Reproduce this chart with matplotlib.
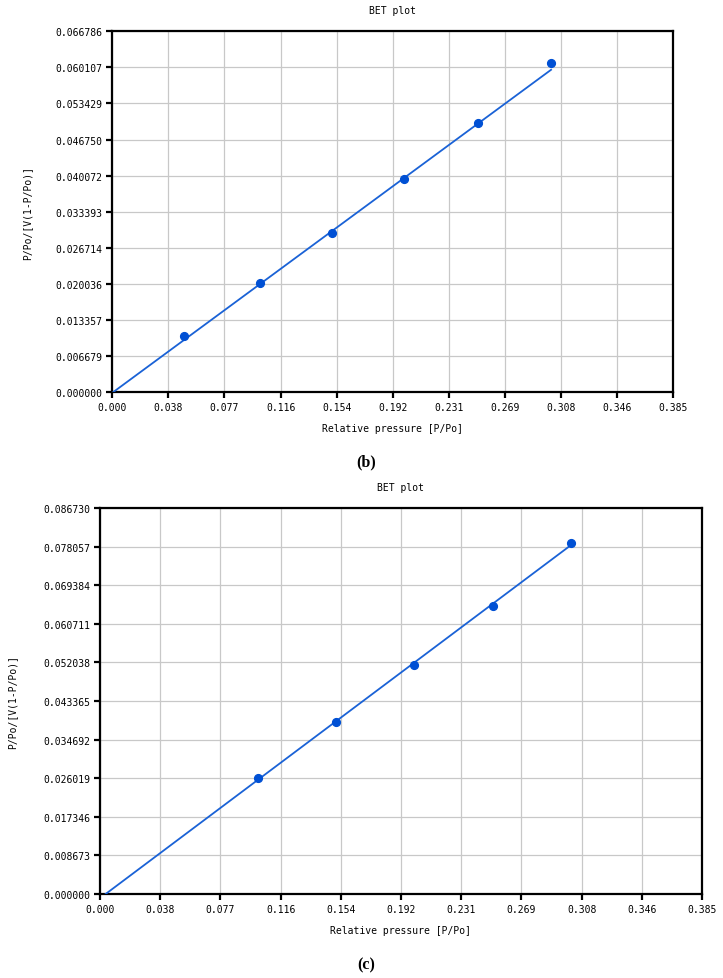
import matplotlib
matplotlib.use("Agg")
import matplotlib.pyplot as plt
import numpy as np

# Datos del panel (b)
x_b = [0.0494, 0.1014, 0.1506, 0.2004, 0.2508, 0.3011]
y_b = [0.01047, 0.02017, 0.02953, 0.03941, 0.04977, 0.06092]
fit_b = (0.1985, -0.0001)  # pendiente, ordenada
yticks_b = ["0.000000", "0.006679", "0.013357", "0.020036", "0.026714", "0.033393",
            "0.040072", "0.046750", "0.053429", "0.060107", "0.066786"]

# Datos del panel (c)
x_c = [0.1009, 0.1511, 0.2011, 0.2511, 0.3012]
y_c = [0.02615, 0.03861, 0.05139, 0.0647, 0.07882]
fit_c = (0.2634, -0.00095)
yticks_c = ["0.000000", "0.008673", "0.017346", "0.026019", "0.034692", "0.043365",
            "0.052038", "0.060711", "0.069384", "0.078057", "0.086730"]

xticks = ["0.000", "0.038", "0.077", "0.116", "0.154", "0.192",
          "0.231", "0.269", "0.308", "0.346", "0.385"]
x_max = 0.385

mono = "DejaVu Sans Mono"
fs = 7
azul_punto = "#0050d4"
azul_linea = "#1a62d6"


def dibujar_panel(fig, rect, xs, ys, fit, ylabels, ylabel_x, etiqueta, etiqueta_y):
    ax = fig.add_axes(rect)
    ymax = float(ylabels[-1])
    ax.set_xlim(0, x_max)
    ax.set_ylim(0, ymax)
    xt = np.linspace(0, x_max, len(xticks))
    yt = np.linspace(0, ymax, len(ylabels))
    ax.set_xticks(xt)
    ax.set_xticklabels(xticks, fontfamily=mono, fontsize=fs)
    ax.set_yticks(yt)
    ax.set_yticklabels(ylabels, fontfamily=mono, fontsize=fs)
    ax.grid(True, color="#c8c8c8", linewidth=0.9)
    ax.set_axisbelow(True)
    for s in ax.spines.values():
        s.set_linewidth(1.6)
        s.set_color("black")
    ax.tick_params(direction="out", length=4, width=1.6, pad=3, colors="black")

    # recta de ajuste desde el corte con y=0 hasta el último punto
    m, b = fit
    x0 = -b / m
    xl = np.array([x0, max(xs)])
    ax.plot(xl, m * xl + b, color=azul_linea, linewidth=1.3, zorder=3)
    ax.plot(xs, ys, "o", color=azul_punto, markersize=5.6, zorder=4)

    ax.set_title("BET plot", fontfamily=mono, fontsize=fs, pad=13)
    ax.set_xlabel("Relative pressure [P/Po]", fontfamily=mono, fontsize=fs, labelpad=8)
    ax.set_ylabel("P/Po/[V(1-P/Po)]", fontfamily=mono, fontsize=fs)
    ax.yaxis.set_label_coords(ylabel_x, 0.5)
    fig.text(0.506, etiqueta_y, etiqueta, ha="center", va="center",
             fontfamily="Liberation Serif", fontsize=11.5, fontweight="bold")
    return ax


fig = plt.figure(figsize=(7.23, 9.79), dpi=100)

dibujar_panel(fig, [0.1553, 0.5983, 0.776, 0.3687], x_b, y_b, fit_b, yticks_b,
              -0.142, "(b)", 1 - 462 / 979)
dibujar_panel(fig, [0.1383, 0.0858, 0.8326, 0.3943], x_c, y_c, fit_c, yticks_c,
              -0.138, "(c)", 1 - 965 / 979)

fig.savefig("out.png", dpi=100)
